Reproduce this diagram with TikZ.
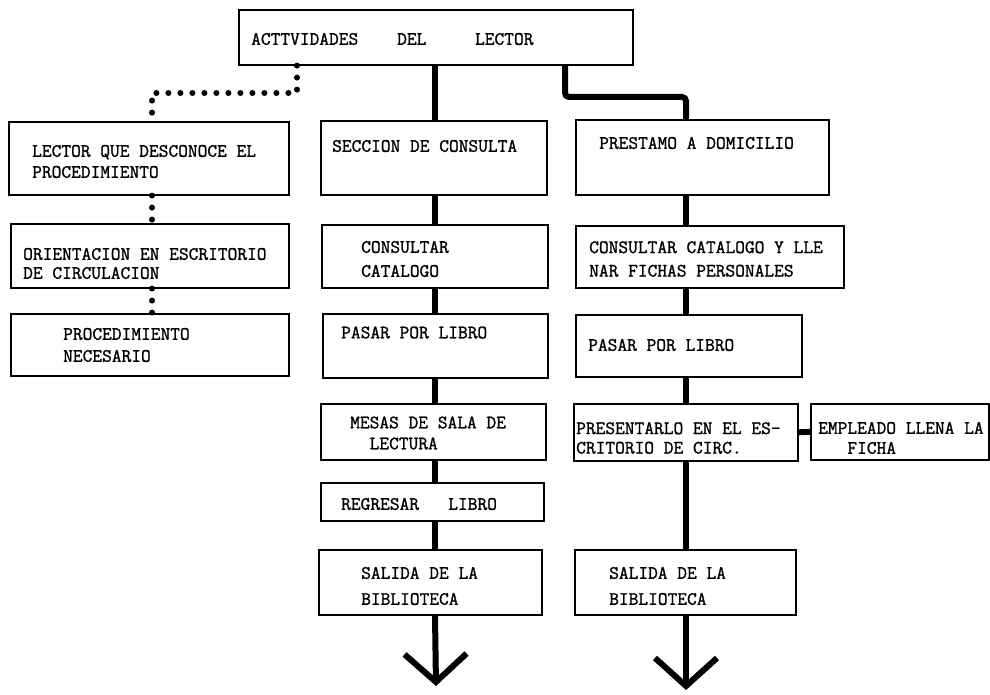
\documentclass[tikz,border=0pt]{standalone}
\usepackage{fontspec}
\newfontfamily\maquina[FakeBold=1.2]{Latin Modern Mono}
\usetikzlibrary{arrows.meta}

\begin{document}
\begin{tikzpicture}[x=1pt, y=-1pt,
    caja/.style = {draw, line width=1.6pt, anchor=north west, inner sep=0pt},
    txt/.style = {anchor=west, align=left, inner sep=0pt, font=\maquina\fontsize{18.9}{21}\selectfont},
    grueso/.style = {line width=6pt},
    puntos/.style = {line width=6pt, line cap=round, dash pattern=on 0pt off 12pt},
    flecha/.style = {grueso, -{Straight Barb[length=28pt, width=62pt, line width=6pt]}}]
\useasboundingbox (0,0) rectangle (990,695);

% cajas
\node[caja, minimum width=394, minimum height=55] (top) at (238,9) {};
\node[caja, minimum width=280, minimum height=73] (lec) at (8,121) {};
\node[caja, minimum width=278, minimum height=64] (ori) at (10,223) {};
\node[caja, minimum width=278, minimum height=62] (proc) at (10,313) {};
\node[caja, minimum width=226, minimum height=74] (secc) at (320,120) {};
\node[caja, minimum width=226, minimum height=63] (consM) at (321,224) {};
\node[caja, minimum width=225, minimum height=64] (pasM) at (322,313) {};
\node[caja, minimum width=225, minimum height=56] (mesas) at (320,403) {};
\node[caja, minimum width=223, minimum height=38] (regr) at (320,482) {};
\node[caja, minimum width=223, minimum height=65] (salM) at (318,549) {};
\node[caja, minimum width=253, minimum height=75] (prest) at (575,119) {};
\node[caja, minimum width=268, minimum height=62] (consR) at (575,225) {};
\node[caja, minimum width=226, minimum height=62] (pasR) at (575,314) {};
\node[caja, minimum width=224, minimum height=57] (pres) at (573,403) {};
\node[caja, minimum width=178, minimum height=56] (empl) at (810,403) {};
\node[caja, minimum width=221, minimum height=65] (salR) at (574,549) {};

% textos
\node[txt] (top-t) at (251,39) {ACTTVIDADES\ \ \ \ DEL\ \ \ \ \ LECTOR};
\node[txt] (lec-t) at (32,161.5) {LECTOR QUE DESCONOCE EL\\PROCEDIMIENTO};
\node[txt] (ori-t) at (23,263.5) {ORIENTACION EN ESCRITORIO\\[-2pt]DE CIRCULACION};
\node[txt] (proc-t) at (63,345) {PROCEDIMIENTO\\[1pt]NECESARIO};
\node[txt] (secc-t) at (332,146) {SECCION DE CONSULTA};
\node[txt] (consM-t) at (361,259) {CONSULTAR\\[3pt]CATALOGO};
\node[txt] (pasM-t) at (341,332.5) {PASAR POR LIBRO};
\node[txt] (mesas-t) at (350,433) {MESAS DE SALA DE\\\phantom{XX}LECTURA};
\node[txt] (regr-t) at (341,504) {REGRESAR\ \ \ LIBRO};
\node[txt] (salM-t) at (361,586) {SALIDA DE LA\\[5pt]BIBLIOTECA};
\node[txt] (prest-t) at (599,143) {PRESTAMO A DOMICILIO};
\node[txt] (consR-t) at (589,259) {CONSULTAR CATALOGO Y LLE\\[2.5pt]NAR FICHAS PERSONALES};
\node[txt] (pasR-t) at (588,345) {PASAR POR LIBRO};
\node[txt] (pres-t) at (576,438) {PRESENTARLO EN EL ES-\\[-1.5pt]CRITORIO DE CIRC.};
\node[txt] (empl-t) at (818,438) {EMPLEADO LLENA LA\\[-1pt]\phantom{XXX}FICHA};
\node[txt] (salR-t) at (609,586) {SALIDA DE LA\\[5pt]BIBLIOTECA};

% columnas y quiebres
\coordinate (colL) at (152,0);
\coordinate (colM) at (435,0);
\coordinate (colR) at (686,0);
\coordinate (d1) at (297,93);
\coordinate (d2) at (152,93);
\coordinate (r1) at (565,97);
\coordinate (r2) at (686,97);
\coordinate (finM) at (436,686);
\coordinate (finR) at (686,690);

% lector que desconoce
\draw[puntos] (top.south -| d1) -- (d1) -- (d2) -- (lec.north -| d2);
\draw[puntos] (lec.south -| colL) -- (ori.north -| colL);
\draw[puntos] (ori.south -| colL) -- (proc.north -| colL);

% consulta
\draw[grueso] (top.south -| colM) -- (secc.north -| colM);
\foreach \a/\b in {secc/consM, consM/pasM, pasM/mesas, mesas/regr, regr/salM}
  \draw[grueso] (\a.south -| colM) -- (\b.north -| colM);
\draw[flecha] (salM.south -| colM) -- (finM);

% prestamo
\draw[grueso, rounded corners=4pt] (top.south -| r1) -- (r1) -- (r2) -- (prest.north -| r2);
\foreach \a/\b in {prest/consR, consR/pasR, pasR/pres, pres/salR}
  \draw[grueso] (\a.south -| colR) -- (\b.north -| colR);
\draw[grueso] (pres.east) -- (empl.west);
\draw[flecha] (salR.south -| colR) -- (finR);
\end{tikzpicture}
\end{document}
